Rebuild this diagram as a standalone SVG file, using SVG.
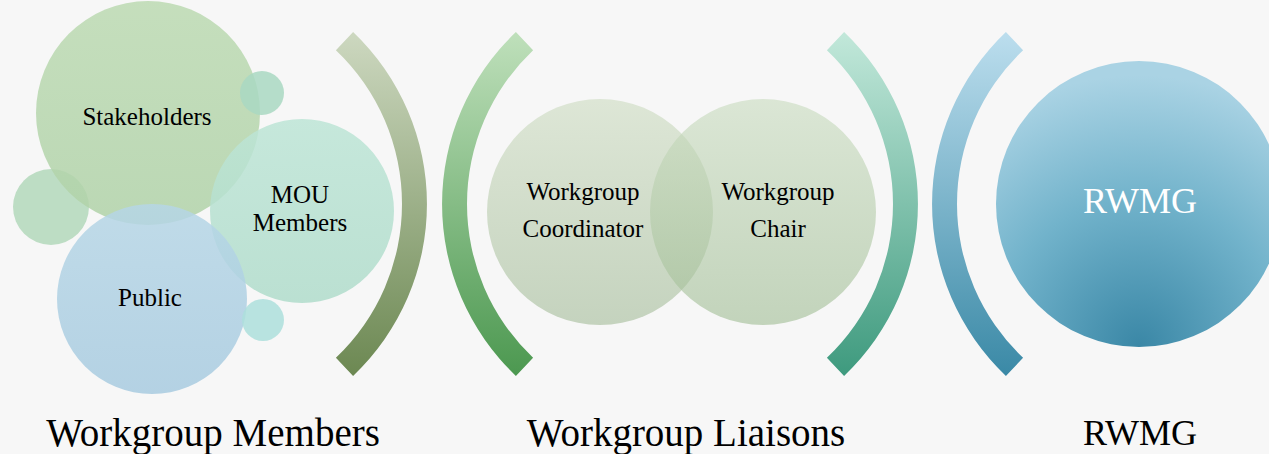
<svg xmlns="http://www.w3.org/2000/svg" width="1269" height="454" viewBox="0 0 1269 454">
  <defs>
    <linearGradient id="gB1" x1="0" y1="0" x2="0" y2="1">
      <stop offset="0" stop-color="#cdd8c0"/>
      <stop offset="1" stop-color="#6c8852"/>
    </linearGradient>
    <linearGradient id="gB2" x1="0" y1="0" x2="0" y2="1">
      <stop offset="0" stop-color="#bfe0bb"/>
      <stop offset="1" stop-color="#4c9850"/>
    </linearGradient>
    <linearGradient id="gB3" x1="0" y1="0" x2="0" y2="1">
      <stop offset="0" stop-color="#c2e8da"/>
      <stop offset="1" stop-color="#3e9a7e"/>
    </linearGradient>
    <linearGradient id="gB4" x1="0" y1="0" x2="0" y2="1">
      <stop offset="0" stop-color="#bcdeee"/>
      <stop offset="1" stop-color="#3a89a6"/>
    </linearGradient>
    <linearGradient id="gStake" x1="0" y1="0" x2="0" y2="1">
      <stop offset="0" stop-color="#bcdab2"/>
      <stop offset="1" stop-color="#b0d2a8"/>
    </linearGradient>
    <linearGradient id="gMou" x1="0" y1="0" x2="0" y2="1">
      <stop offset="0" stop-color="#bde5d6"/>
      <stop offset="1" stop-color="#b0dccb"/>
    </linearGradient>
    <linearGradient id="gPub" x1="0" y1="0" x2="0" y2="1">
      <stop offset="0" stop-color="#b6d6e6"/>
      <stop offset="1" stop-color="#a8cbe0"/>
    </linearGradient>
    <linearGradient id="gMid" x1="0" y1="0" x2="0" y2="1">
      <stop offset="0" stop-color="#ccdbc0"/>
      <stop offset="1" stop-color="#a3bb98"/>
    </linearGradient>
    <linearGradient id="gMid2" x1="0" y1="0" x2="0" y2="1">
      <stop offset="0" stop-color="#c8dbbe"/>
      <stop offset="1" stop-color="#9fbc93"/>
    </linearGradient>
    <radialGradient id="gRwmg" cx="0.5" cy="0.95" r="0.9" fx="0.5" fy="1">
      <stop offset="0" stop-color="#3a87a6"/>
      <stop offset="0.55" stop-color="#72b3cb"/>
      <stop offset="1" stop-color="#aad3e4"/>
    </radialGradient>
    <style>
      .t { font-family: "Liberation Serif", "Times New Roman", serif; fill: #000000; text-anchor: middle; }
      .c { font-size: 25px; }
      .lab { font-size: 39px; }
      .bub { opacity: 0.85; }
      .mid { opacity: 0.6; }
    </style>
  </defs>

  <rect x="0" y="0" width="1269" height="454" fill="#f7f7f7"/>

  <g id="connectors">
    <path id="bracket1" d="M 353.1 32.1 A 237 237 0 0 1 353.1 375.9 L 335.9 357.8 A 212 212 0 0 0 335.9 50.2 Z" fill="url(#gB1)"/>
    <path id="bracket2" d="M 515.9 32.1 A 237 237 0 0 0 515.9 375.9 L 533.1 357.8 A 212 212 0 0 1 533.1 50.2 Z" fill="url(#gB2)"/>
    <path id="bracket3" d="M 844.1 32.1 A 237 237 0 0 1 844.1 375.9 L 826.9 357.8 A 212 212 0 0 0 826.9 50.2 Z" fill="url(#gB3)"/>
    <path id="bracket4" d="M 1005.9 32.1 A 237 237 0 0 0 1005.9 375.9 L 1023.1 357.8 A 212 212 0 0 1 1023.1 50.2 Z" fill="url(#gB4)"/>
  </g>

  <g id="small-left"><circle cx="51" cy="207" r="38" fill="#b3d8bb" class="bub"/></g>
  <g id="stakeholders">
    <circle cx="148" cy="113" r="112" fill="url(#gStake)" class="bub"/>
    <text class="t c" x="147" y="125">Stakeholders</text>
  </g>
  <g id="small-topright"><circle cx="262" cy="93" r="22" fill="#a9d8c2" class="bub"/></g>
  <g id="mou-members">
    <circle cx="302" cy="211" r="92" fill="url(#gMou)" class="bub"/>
    <text class="t c" x="300" y="203">MOU</text>
    <text class="t c" x="300" y="231">Members</text>
  </g>
  <g id="public">
    <circle cx="152" cy="299" r="95" fill="url(#gPub)" class="bub"/>
    <text class="t c" x="150" y="306">Public</text>
  </g>
  <g id="small-bottomright"><circle cx="263" cy="320" r="21" fill="#addfdc" class="bub"/></g>

  <g id="workgroup-coordinator">
    <circle cx="600" cy="212" r="113" fill="url(#gMid)" class="mid"/>
  </g>
  <g id="workgroup-chair">
    <circle cx="763" cy="212" r="113" fill="url(#gMid2)" class="mid"/>
  </g>
  <g id="liaison-texts">
    <text class="t c" x="583" y="200">Workgroup</text>
    <text class="t c" x="583" y="237">Coordinator</text>
    <text class="t c" x="778" y="200">Workgroup</text>
    <text class="t c" x="778" y="237">Chair</text>
  </g>

  <g id="rwmg">
    <circle cx="1139" cy="204" r="143" fill="url(#gRwmg)"/>
    <text class="t" x="1140" y="213" style="font-size:36px;fill:#ffffff">RWMG</text>
  </g>

  <g id="labels">
    <text class="t lab" x="213" y="446">Workgroup Members</text>
    <text class="t lab" x="686" y="446">Workgroup Liaisons</text>
    <text class="t" x="1140" y="445" style="font-size:36px">RWMG</text>
  </g>
</svg>
